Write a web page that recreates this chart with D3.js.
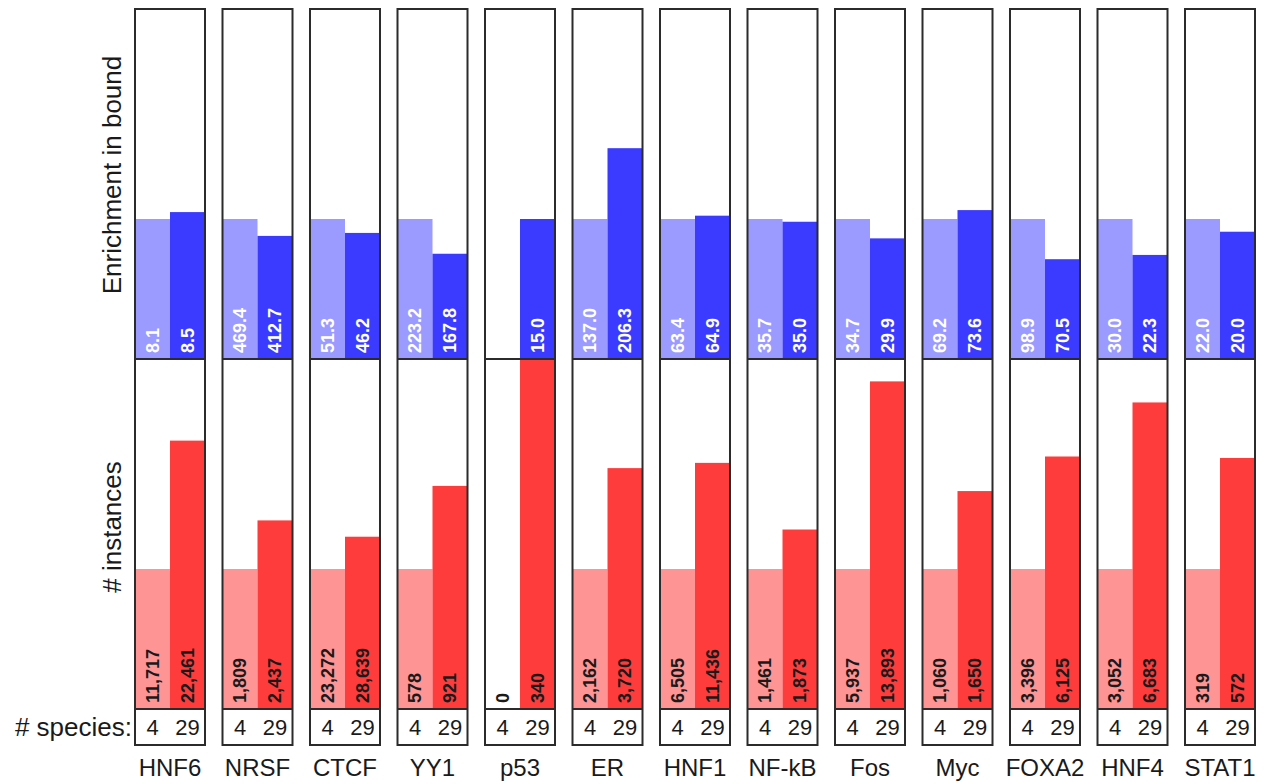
<!DOCTYPE html>
<html>
<head>
<meta charset="utf-8">
<script src="https://cdn.jsdelivr.net/npm/d3@7"></script>
<style>
  html, body { margin: 0; padding: 0; background: #fff; }
  svg { display: block; font-family: "Liberation Sans", Arial, Helvetica, sans-serif; }
</style>
</head>
<body>
<svg id="chart" width="1268" height="784"></svg>
<script>
// Transcription factors, one panel each
const factors = ["HNF6", "NRSF", "CTCF", "YY1", "p53", "ER", "HNF1", "NF-kB", "Fos", "Myc", "FOXA2", "HNF4", "STAT1"];
// Species sets compared in each panel
const speciesSets = ["4", "29"];

// Enrichment in bound regions (null = not available)
const enrich4  = [8.1, 469.4, 51.3, 223.2, null, 137.0, 63.4, 35.7, 34.7, 69.2, 98.9, 30.0, 22.0];
const enrich29 = [8.5, 412.7, 46.2, 167.8, 15.0, 206.3, 64.9, 35.0, 29.9, 73.6, 70.5, 22.3, 20.0];

// Number of motif instances
const inst4  = [11717, 1809, 23272, 578, 0, 2162, 6505, 1461, 5937, 1060, 3396, 3052, 319];
const inst29 = [22461, 2437, 28639, 921, 340, 3720, 11436, 1873, 13893, 1650, 6125, 6683, 572];

const colors = {
  enrichLight: "#9a9aff",
  enrichDark: "#3b3bff",
  instLight: "#ff9494",
  instDark: "#ff3c3c",
  border: "#2b2b2b"
};

const svg = d3.select("#chart");

const yTop = 9, yMid = 359, yBottom = 709, ySpecies = 745;

const x = d3.scaleBand().domain(factors).range([135, 1255]).paddingInner(0.2).paddingOuter(0);
const xs = d3.scaleBand().domain(speciesSets).range([0, x.bandwidth()]);

// Heights are relative to the 4-species value of each factor
const yEnrich = d3.scaleLinear().domain([0, 2.5]).range([yMid, yTop]).clamp(true);
const yInst = d3.scaleLinear().domain([0, 2.5]).range([yBottom, yMid]).clamp(true);

const fmtEnrich = d3.format(".1f");
const fmtInst = d3.format(",");

function ratio(base, v) {
  if (base === null) return 1;
  if (base === 0) return v === 0 ? 0 : Infinity;
  return v / base;
}

const panels = factors.map((f, i) => ({
  name: f,
  bars: [
    { part: "enrich", set: "4", value: enrich4[i], r: enrich4[i] === null ? null : 1 },
    { part: "enrich", set: "29", value: enrich29[i], r: ratio(enrich4[i], enrich29[i]) },
    { part: "inst", set: "4", value: inst4[i], r: inst4[i] === 0 ? 0 : 1 },
    { part: "inst", set: "29", value: inst29[i], r: ratio(inst4[i], inst29[i]) }
  ]
}));

const g = svg.selectAll("g.panel")
  .data(panels)
  .join("g")
  .attr("class", "panel")
  .attr("transform", d => `translate(${x(d.name)},0)`);

// Bars
g.selectAll("rect.bar")
  .data(d => d.bars.filter(b => b.r !== null && b.r > 0))
  .join("rect")
  .attr("class", "bar")
  .attr("x", b => xs(b.set))
  .attr("width", xs.bandwidth())
  .attr("y", b => b.part === "enrich" ? yEnrich(b.r) : yInst(b.r))
  .attr("height", b => b.part === "enrich" ? yMid - yEnrich(b.r) : yBottom - yInst(b.r))
  .attr("fill", b => b.part === "enrich"
    ? (b.set === "4" ? colors.enrichLight : colors.enrichDark)
    : (b.set === "4" ? colors.instLight : colors.instDark));

// Value labels, rotated, reading upward from each bar's base
g.selectAll("text.val")
  .data(d => d.bars.filter(b => b.value !== null))
  .join("text")
  .attr("class", "val")
  .attr("transform", b => {
    const cx = xs(b.set) + xs.bandwidth() / 2;
    const by = (b.part === "enrich" ? yMid : yBottom) - 6;
    return `translate(${cx},${by}) rotate(-90)`;
  })
  .attr("dy", "0.36em")
  .attr("text-anchor", "start")
  .attr("font-size", 18)
  .attr("font-weight", "bold")
  .attr("fill", b => b.part === "enrich" ? "#ffffff" : "#1a1a1a")
  .text(b => b.part === "enrich" ? fmtEnrich(b.value) : fmtInst(b.value));

// Panel frames
g.append("rect")
  .attr("x", 0).attr("y", yTop)
  .attr("width", x.bandwidth()).attr("height", ySpecies - yTop)
  .attr("fill", "none").attr("stroke", colors.border).attr("stroke-width", 2);
g.append("line")
  .attr("x1", 0).attr("x2", x.bandwidth())
  .attr("y1", yMid).attr("y2", yMid)
  .attr("stroke", colors.border).attr("stroke-width", 2);
g.append("line")
  .attr("x1", 0).attr("x2", x.bandwidth())
  .attr("y1", yBottom).attr("y2", yBottom)
  .attr("stroke", colors.border).attr("stroke-width", 2);

// Species counts
g.selectAll("text.sp")
  .data(speciesSets)
  .join("text")
  .attr("class", "sp")
  .attr("x", s => xs(s) + xs.bandwidth() / 2)
  .attr("y", (yBottom + ySpecies) / 2)
  .attr("dy", "0.36em")
  .attr("text-anchor", "middle")
  .attr("font-size", 22)
  .attr("fill", "#1a1a1a")
  .text(s => s);

// Factor names
g.append("text")
  .attr("x", x.bandwidth() / 2)
  .attr("y", 767)
  .attr("dy", "0.36em")
  .attr("text-anchor", "middle")
  .attr("font-size", 24)
  .attr("fill", "#1a1a1a")
  .text(d => d.name);

// Row titles
svg.append("text")
  .attr("x", 132).attr("y", 727)
  .attr("dy", "0.36em")
  .attr("text-anchor", "end")
  .attr("font-size", 26)
  .attr("fill", "#1a1a1a")
  .text("# species:");

svg.append("text")
  .attr("transform", "translate(112,175) rotate(-90)")
  .attr("dy", "0.36em")
  .attr("text-anchor", "middle")
  .attr("font-size", 26)
  .attr("fill", "#1a1a1a")
  .text("Enrichment in bound");

svg.append("text")
  .attr("transform", "translate(112,527) rotate(-90)")
  .attr("dy", "0.36em")
  .attr("text-anchor", "middle")
  .attr("font-size", 26)
  .attr("fill", "#1a1a1a")
  .text("# instances");
</script>
</body>
</html>
